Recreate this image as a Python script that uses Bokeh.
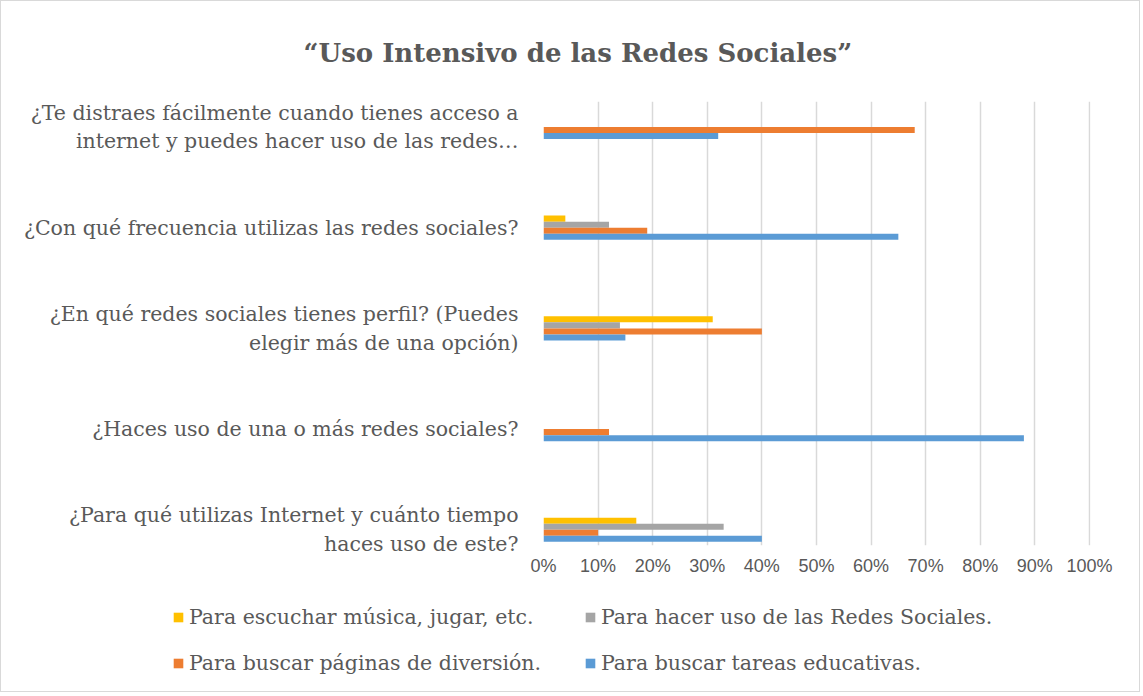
from bokeh.plotting import figure
from bokeh.models import (Range1d, FixedTicker, NumeralTickFormatter, Legend,
                          LegendItem, ColumnDataSource)
from bokeh.transform import dodge
from bokeh.embed import file_html
from bokeh.resources import INLINE

# ---------------- data (bottom to top) ----------------
questions = [
    "¿Para qué utilizas Internet y cuánto tiempo\nhaces uso de este?",
    "¿Haces uso de una o más redes sociales?",
    "¿En qué redes sociales tienes perfil? (Puedes\nelegir más de una opción)",
    "¿Con qué frecuencia utilizas las redes sociales?",
    "¿Te distraes fácilmente cuando tienes acceso a\ninternet y puedes hacer uso de las redes…",
]
musica = [17, 0, 31, 4, 0]        # Para escuchar música, jugar, etc.
redes = [33, 0, 14, 12, 0]        # Para hacer uso de las Redes Sociales.
diversion = [10, 12, 40, 19, 68]  # Para buscar páginas de diversión.
tareas = [40, 88, 15, 65, 32]     # Para buscar tareas educativas.

series_names = [
    "Para escuchar música, jugar, etc.",
    "Para hacer uso de las Redes Sociales.",
    "Para buscar páginas de diversión.",
    "Para buscar tareas educativas.",
]
colors = ["#FFC000", "#A5A5A5", "#ED7D31", "#5B9BD5"]

TEXT = "#595959"
SERIF = "DejaVu Serif"
BORDER = "#D9D9D9"

idx = list(range(len(questions)))
src = ColumnDataSource(dict(
    y=idx,
    s0=[v / 100 for v in musica],
    s1=[v / 100 for v in redes],
    s2=[v / 100 for v in diversion],
    s3=[v / 100 for v in tareas],
))

W = 1140
H1 = 592
H2 = 100
p = figure(width=W, height=H1, output_backend="svg", toolbar_location=None,
           x_range=Range1d(0, 1.002), y_range=Range1d(-0.156, 4.253))
p.min_border_left = 543
p.min_border_right = W - 1090
p.min_border_top = 101
p.min_border_bottom = H1 - 545
p.outline_line_color = None
p.background_fill_color = "white"
p.border_fill_color = None
p.styles = {"box-shadow": f"inset 1px 0 0 {BORDER}, inset -1px 0 0 {BORDER}, inset 0 1px 0 {BORDER}",
            "background": "white"}

p.title.text = "“Uso Intensivo de las Redes Sociales”"
p.title.text_font = SERIF
p.title.text_font_style = "bold"
p.title.text_font_size = "26px"
p.title.text_color = TEXT
p.title.align = "left"
p.title.offset = -240
p.title.standoff = 68

bh = 0.06
offsets = [1.5 * bh, 0.5 * bh, -0.5 * bh, -1.5 * bh]
for i, col in enumerate(colors):
    p.hbar(y=dodge("y", offsets[i], range=p.y_range), right=f"s{i}", left=0,
           height=bh, source=src, fill_color=col, line_color=None)

# x axis
p.xaxis.ticker = FixedTicker(ticks=[i / 10 for i in range(11)])
p.xaxis.formatter = NumeralTickFormatter(format="0%")
p.xaxis.axis_line_color = None
p.xaxis.major_tick_line_color = None
p.xaxis.minor_tick_line_color = None
p.xaxis.major_label_text_font = "Liberation Sans"
p.xaxis.major_label_text_font_size = "18px"
p.xaxis.major_label_text_color = TEXT
p.xaxis.major_label_standoff = 4

# y axis
p.yaxis.ticker = FixedTicker(ticks=idx)
p.yaxis.major_label_overrides = {i: q for i, q in zip(idx, questions)}
p.yaxis.axis_line_color = None
p.yaxis.major_tick_line_color = None
p.yaxis.minor_tick_line_color = None
p.yaxis.major_label_text_font = SERIF
p.yaxis.major_label_text_font_size = "20.5px"
p.yaxis.major_label_text_color = TEXT
p.yaxis.major_label_standoff = 19

p.xgrid.grid_line_color = BORDER
p.xgrid.grid_line_width = 1.5
p.ygrid.grid_line_color = None

# ---------------- legend panel (separate root, full-width frame) ----------------
pl = figure(width=W, height=H2, output_backend="svg", toolbar_location=None,
            x_range=Range1d(0, 1), y_range=Range1d(10, 11))
pl.axis.visible = False
pl.grid.visible = False
pl.outline_line_color = None
pl.background_fill_color = None
pl.border_fill_color = None
pl.min_border_left = 0
pl.min_border_top = 0
pl.min_border_right = 0
pl.min_border_bottom = 0
pl.styles = {"box-shadow": f"inset 1px 0 0 {BORDER}, inset -1px 0 0 {BORDER}, inset 0 -1px 0 {BORDER}",
             "background": "white"}
# proxies for the legend (same data, outside the visible range of this panel)
leg_rs = [pl.hbar(y="y", right=f"s{i}", left=0, height=bh, source=src,
                  fill_color=c, line_color=None) for i, c in enumerate(colors)]
legend = Legend(items=[LegendItem(label=n, renderers=[r]) for n, r in zip(series_names, leg_rs)],
                location=(172, 17), orientation="horizontal", ncols=2,
                border_line_color=None, background_fill_alpha=0,
                glyph_width=12, glyph_height=12, label_standoff=5, spacing=22,
                label_width=373, padding=0, margin=0,
                label_text_font=SERIF, label_text_font_size="20.5px",
                label_text_color=TEXT)
pl.add_layout(legend, "center")

open("out.html", "w").write(file_html([p, pl], INLINE))
